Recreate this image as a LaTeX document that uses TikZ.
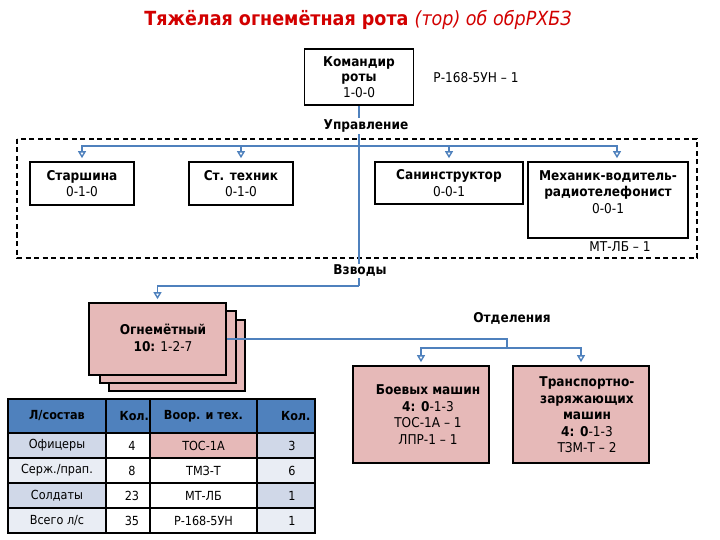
\documentclass[tikz,border=0pt]{standalone}
\usepackage{fontspec}
\setmainfont{DejaVu Sans Condensed}
\usetikzlibrary{arrows.meta}
\definecolor{lnblue}{RGB}{79,129,189}
\definecolor{pinkf}{RGB}{230,185,184}
\definecolor{hdrblue}{RGB}{79,129,189}
\definecolor{rowa}{RGB}{208,216,232}
\definecolor{rowb}{RGB}{233,237,244}
\definecolor{titlered}{RGB}{210,0,0}
\begin{document}
\begin{tikzpicture}[x=1pt,y=-1pt,
  font=\fontsize{13.5}{16.5}\selectfont,
  box/.style={draw=black, line width=1.7pt, fill=white, align=center, inner sep=0pt},
  pinkbox/.style={box, fill=pinkf},
  txt/.style={align=center, inner sep=0pt},
  lbl/.style={fill=white, inner sep=1.5pt, font=\fontsize{13.5}{16}\selectfont\bfseries},
  conn/.style={draw=lnblue, line width=1.4pt},
  arr/.style={-{Triangle[open,length=7pt,width=8pt]}, shorten >=3pt},
  cell/.style={draw=black, line width=1.4pt, inner sep=0pt, font=\fontsize{12.5}{14}\selectfont},
]
\useasboundingbox (0,0) rectangle (720,540);

% title
\node[txt, text=titlered] (title) at (358,20)
  {\fontsize{19.5}{22}\selectfont\bfseries Тяжёлая огнемётная рота {\mdseries\itshape (тор) об обрРХБЗ}};

% dashed group
\draw[black, line width=1.3pt, dash pattern=on 5pt off 3.5pt] (17,139) rectangle (697,258);

% commander
\node[box, minimum width=109pt, minimum height=56pt] (cmd) at (359,77)
  {\bfseries Командир\\[-1pt] \bfseries роты\\[-1pt] 1-0-0};
\node[txt] (cmdradio) at (476,78) {Р-168-5УН – 1};

% management boxes
\node[box, minimum width=104pt, minimum height=43pt] (starsh) at (82,183.5)
  {\bfseries Старшина\\ 0-1-0};
\node[box, minimum width=104pt, minimum height=43pt] (tech) at (241,183.5)
  {\bfseries Ст. техник\\ 0-1-0};
\node[box, minimum width=148pt, minimum height=42pt] (sanin) at (449,183)
  {\bfseries Санинструктор\\ 0-0-1};
\node[box, minimum width=160pt, minimum height=76pt] (mech) at (608,200) {};
\node[txt] (mechtxt) at (608,192)
  {\bfseries Механик-водитель-\\ \bfseries радиотелефонист\\ 0-0-1};
\node[txt] (mechveh) at (620,247) {МТ-ЛБ – 1};

% platoon stack
\node[pinkbox, minimum width=136pt, minimum height=71pt] (ogn3) at (177,355.5) {};
\node[pinkbox, minimum width=136pt, minimum height=72pt] (ogn2) at (168,347) {};
\node[pinkbox, minimum width=137pt, minimum height=72pt] (ogn1) at (157.5,339) {};
\node[txt] (ogntxt) at (163,338) {\bfseries Огнемётный\\ \textbf{10:} 1-2-7};

% squads
\node[pinkbox, minimum width=136pt, minimum height=97pt] (boev) at (421,414.5) {};
\node[txt] (boevtxt) at (428,414.5)
  {\bfseries Боевых машин\\ \textbf{4: 0}-1-3\\ ТОС-1А – 1\\ ЛПР-1 – 1};
\node[pinkbox, minimum width=136pt, minimum height=97pt] (trans) at (581,414.5) {};
\node[txt] (transtxt) at (587,415)
  {\bfseries Транспортно-\\ \bfseries заряжающих\\ \bfseries машин\\ \textbf{4: 0}-1-3\\ ТЗМ-Т – 2};

% connectors
\coordinate (jU) at (359,146);
\coordinate (jV) at (359,286);
\coordinate (jO) at (507,348);
\draw[conn] (cmd.south) -- (jV);
\draw[conn, arr] (jU) -| (starsh.north);
\draw[conn, arr] (jU) -| (tech.north);
\draw[conn, arr] (jU) -| (sanin.north);
\draw[conn, arr] (jU) -| ([xshift=9pt]mech.north);
\draw[conn, arr] (jV) -| (ogn1.north);
\draw[conn] (ogn1.east) -| (jO);
\draw[conn, arr] (jO) -| (boev.north);
\draw[conn, arr] (jO) -| (trans.north);

% labels
\node[lbl] (lupr) at (366,126) {Управление};
\node[lbl] (lvzv) at (360,271) {Взводы};
\node[lbl] (lotd) at (512,318) {Отделения};

% table
\node[cell, fill=hdrblue, minimum width=98pt, minimum height=34pt] (h1) at (57,416) {\bfseries Л/состав};
\node[cell, fill=hdrblue, minimum width=44pt, minimum height=34pt, text width=42pt, align=right] (h2) at (128,416) {\bfseries Кол.};
\node[cell, fill=hdrblue, minimum width=107pt, minimum height=34pt] (h3) at (203.5,416) {\bfseries Воор. и тех.};
\node[cell, fill=hdrblue, minimum width=58pt, minimum height=34pt, text width=49pt, align=right] (h4) at (286,416) {\bfseries Кол.};

\node[cell, fill=rowa, minimum width=98pt, minimum height=25pt] (a1) at (57,445.5) {Офицеры};
\node[cell, fill=white, minimum width=44pt, minimum height=25pt] (a2) at (128,445.5) {\hspace*{8pt}4};
\node[cell, fill=pinkf, minimum width=107pt, minimum height=25pt] (a3) at (203.5,445.5) {ТОС-1А};
\node[cell, fill=rowa, minimum width=58pt, minimum height=25pt] (a4) at (286,445.5) {\hspace*{12pt}3};

\node[cell, fill=rowb, minimum width=98pt, minimum height=25pt] (b1) at (57,470.5) {Серж./прап.};
\node[cell, fill=white, minimum width=44pt, minimum height=25pt] (b2) at (128,470.5) {\hspace*{8pt}8};
\node[cell, fill=white, minimum width=107pt, minimum height=25pt] (b3) at (203.5,470.5) {ТМЗ-Т};
\node[cell, fill=rowb, minimum width=58pt, minimum height=25pt] (b4) at (286,470.5) {\hspace*{12pt}6};

\node[cell, fill=rowa, minimum width=98pt, minimum height=25pt] (c1) at (57,495.5) {Солдаты};
\node[cell, fill=white, minimum width=44pt, minimum height=25pt] (c2) at (128,495.5) {\hspace*{8pt}23};
\node[cell, fill=white, minimum width=107pt, minimum height=25pt] (c3) at (203.5,495.5) {МТ-ЛБ};
\node[cell, fill=rowa, minimum width=58pt, minimum height=25pt] (c4) at (286,495.5) {\hspace*{12pt}1};

\node[cell, fill=rowb, minimum width=98pt, minimum height=25pt] (d1) at (57,520.5) {Всего л/с};
\node[cell, fill=white, minimum width=44pt, minimum height=25pt] (d2) at (128,520.5) {\hspace*{8pt}35};
\node[cell, fill=white, minimum width=107pt, minimum height=25pt] (d3) at (203.5,520.5) {Р-168-5УН};
\node[cell, fill=rowb, minimum width=58pt, minimum height=25pt] (d4) at (286,520.5) {\hspace*{12pt}1};
\end{tikzpicture}
\end{document}
